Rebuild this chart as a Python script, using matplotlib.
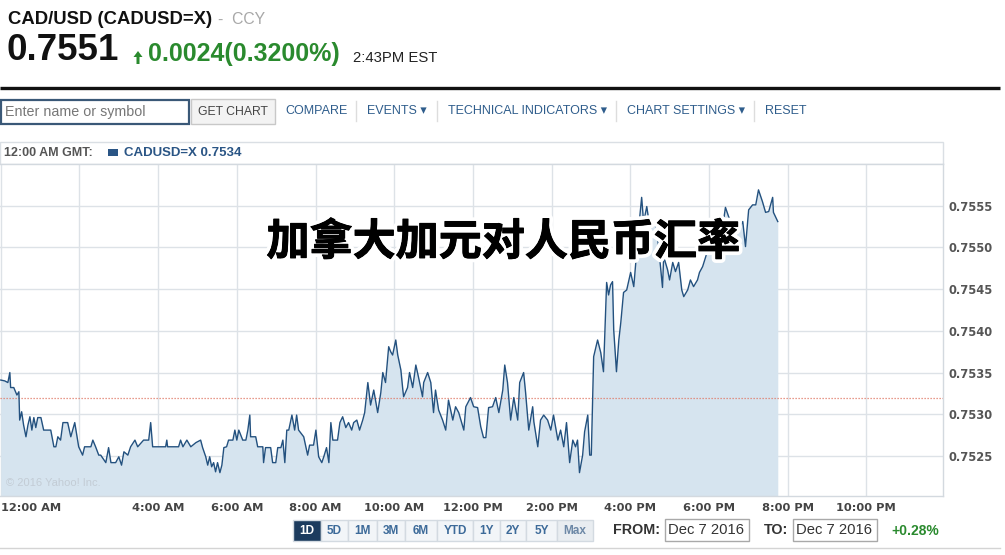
import matplotlib
matplotlib.use("Agg")
import matplotlib.pyplot as plt
from matplotlib.patches import Rectangle, FancyArrow
import matplotlib.patheffects as pe

# ---------------- data ----------------
title_cn = "加拿大加元对人民币汇率"
symbol_name = "CAD/USD (CADUSD=X)"
symbol_type = "CCY"
last_price = "0.7551"
change_text = "0.0024(0.3200%)"
quote_time = "2:43PM EST"
legend_text = "CADUSD=X 0.7534"
legend_time = "12:00 AM GMT:"
prev_close = 0.75320
period_change = "+0.28%"
date_from = "Dec 7 2016"
date_to = "Dec 7 2016"

hours_overnight = [0.00, 0.10, 0.18, 0.23, 0.25, 0.33, 0.41, 0.46, 0.48, 0.53,
                   0.58, 0.64, 0.69, 0.74, 0.79, 0.84, 0.89, 0.94, 1.02, 1.09,
                   1.27, 1.35, 1.40, 1.45, 1.52, 1.58, 1.70, 1.78, 1.88, 1.98,
                   2.08, 2.13, 2.29, 2.34, 2.41, 2.49, 2.54, 2.67, 2.74, 2.80,
                   2.92, 3.00, 3.07, 3.13, 3.23, 3.30, 3.41, 3.48, 3.63, 3.76,
                   3.81, 3.86, 4.19, 4.22, 4.24, 4.52, 4.57, 4.63, 4.73, 4.83]
rates_overnight = [0.75341, 0.75340, 0.75338, 0.75350, 0.75332, 0.75332, 0.75323, 0.75327, 0.75293, 0.75303,
                   0.75287, 0.75273, 0.75287, 0.75297, 0.75281, 0.75296, 0.75284, 0.75296, 0.75296, 0.75281,
                   0.75281, 0.75261, 0.75261, 0.75273, 0.75269, 0.75290, 0.75290, 0.75273, 0.75290, 0.75261,
                   0.75251, 0.75261, 0.75261, 0.75269, 0.75261, 0.75251, 0.75251, 0.75242, 0.75260, 0.75242,
                   0.75242, 0.75249, 0.75239, 0.75255, 0.75251, 0.75261, 0.75269, 0.75261, 0.75269, 0.75269,
                   0.75290, 0.75261, 0.75261, 0.75269, 0.75261, 0.75261, 0.75269, 0.75261, 0.75269, 0.75261]

hours_morning = [4.96, 5.08, 5.13, 5.21, 5.26, 5.31, 5.36, 5.41, 5.46, 5.51,
                 5.57, 5.62, 5.67, 5.74, 5.79, 5.90, 5.95, 6.00, 6.05, 6.15,
                 6.23, 6.28, 6.33, 6.35, 6.48, 6.53, 6.66, 6.68, 6.73, 6.86,
                 6.91, 6.99, 7.04, 7.12, 7.17, 7.22, 7.27, 7.32, 7.40, 7.47,
                 7.52, 7.57, 7.70, 7.80, 7.85, 7.95, 8.01, 8.08, 8.16, 8.21,
                 8.28, 8.34, 8.39, 8.44, 8.56, 8.62, 8.69, 8.77, 8.84, 8.92,
                 8.97, 9.05, 9.12, 9.20]
rates_morning = [0.75266, 0.75269, 0.75260, 0.75249, 0.75239, 0.75249, 0.75237, 0.75242, 0.75231, 0.75242,
                 0.75230, 0.75239, 0.75260, 0.75261, 0.75269, 0.75269, 0.75281, 0.75269, 0.75281, 0.75269,
                 0.75269, 0.75281, 0.75299, 0.75273, 0.75273, 0.75261, 0.75261, 0.75242, 0.75260, 0.75260,
                 0.75242, 0.75242, 0.75260, 0.75260, 0.75269, 0.75242, 0.75281, 0.75281, 0.75299, 0.75281,
                 0.75299, 0.75281, 0.75273, 0.75251, 0.75263, 0.75263, 0.75281, 0.75249, 0.75242, 0.75249,
                 0.75260, 0.75242, 0.75290, 0.75269, 0.75269, 0.75290, 0.75297, 0.75284, 0.75290, 0.75281,
                 0.75290, 0.75293, 0.75281, 0.75293]

hours_midday = [9.25, 9.33, 9.40, 9.48, 9.58, 9.66, 9.71, 9.78, 9.86, 9.91,
                9.96, 10.04, 10.09, 10.17, 10.22, 10.24, 10.34, 10.39, 10.47, 10.55,
                10.62, 10.72, 10.75, 10.85, 10.93, 11.00, 11.05, 11.13, 11.23, 11.31,
                11.38, 11.49, 11.56, 11.64, 11.77, 11.82, 11.94, 12.02, 12.12, 12.20,
                12.27, 12.33, 12.40, 12.50, 12.58, 12.66, 12.76, 12.81, 12.88, 12.96,
                13.04, 13.14, 13.19, 13.29, 13.34, 13.42, 13.52, 13.55, 13.65, 13.72,
                13.80, 13.90, 13.98, 14.05, 14.16, 14.23, 14.31, 14.38, 14.46, 14.54,
                14.61, 14.66, 14.71, 14.79, 14.84, 14.92, 14.97, 15.01]
rates_midday = [0.75302, 0.75338, 0.75311, 0.75329, 0.75302, 0.75326, 0.75350, 0.75338, 0.75381, 0.75375,
                0.75371, 0.75389, 0.75371, 0.75353, 0.75329, 0.75321, 0.75332, 0.75350, 0.75332, 0.75359,
                0.75344, 0.75321, 0.75338, 0.75350, 0.75338, 0.75302, 0.75329, 0.75305, 0.75293, 0.75281,
                0.75317, 0.75293, 0.75309, 0.75302, 0.75281, 0.75309, 0.75320, 0.75309, 0.75308, 0.75285,
                0.75272, 0.75272, 0.75308, 0.75309, 0.75320, 0.75302, 0.75329, 0.75359, 0.75338, 0.75293,
                0.75320, 0.75293, 0.75338, 0.75350, 0.75326, 0.75281, 0.75309, 0.75291, 0.75261, 0.75293,
                0.75299, 0.75293, 0.75281, 0.75299, 0.75269, 0.75281, 0.75261, 0.75290, 0.75242, 0.75269,
                0.75261, 0.75269, 0.75230, 0.75251, 0.75279, 0.75299, 0.75251, 0.75251]

hours_afternoon = [15.07, 15.17, 15.25, 15.32, 15.40, 15.45, 15.50, 15.55, 15.58, 15.65,
                   15.71, 15.76, 15.83, 15.91, 16.01, 16.09, 16.14, 16.21, 16.29, 16.34,
                   16.42, 16.47, 16.57, 16.65, 16.72, 16.82, 16.85, 16.95, 17.00, 17.08,
                   17.15, 17.23, 17.31, 17.36, 17.46, 17.53, 17.61, 17.71, 17.76, 17.84,
                   17.92, 17.99, 18.09, 18.22, 18.35, 18.42, 18.50, 18.60, 18.68, 18.75,
                   18.86, 18.93, 19.01, 19.11, 19.19, 19.26, 19.36, 19.44, 19.52, 19.62,
                   19.64, 19.75]
rates_afternoon = [0.75369, 0.75389, 0.75374, 0.75351, 0.75458, 0.75443, 0.75455, 0.75459, 0.75401, 0.75351,
                   0.75389, 0.75410, 0.75446, 0.75449, 0.75470, 0.75453, 0.75482, 0.75521, 0.75560, 0.75530,
                   0.75549, 0.75533, 0.75525, 0.75530, 0.75501, 0.75452, 0.75489, 0.75473, 0.75461, 0.75482,
                   0.75471, 0.75482, 0.75449, 0.75441, 0.75449, 0.75461, 0.75453, 0.75461, 0.75470, 0.75477,
                   0.75489, 0.75501, 0.75506, 0.75509, 0.75525, 0.75548, 0.75537, 0.75525, 0.75513, 0.75521,
                   0.75531, 0.75501, 0.75545, 0.75551, 0.75551, 0.75569, 0.75555, 0.75542, 0.75543, 0.75560,
                   0.75542, 0.75531]

y_ticks = [0.7525, 0.7530, 0.7535, 0.7540, 0.7545, 0.7550, 0.7555]
grid_hours = [0, 2, 4, 6, 8, 10, 12, 14, 16, 18, 20, 22]
x_labels = ["12:00 AM", "", "4:00 AM", "6:00 AM", "8:00 AM", "10:00 AM", "12:00 PM",
            "2:00 PM", "4:00 PM", "6:00 PM", "8:00 PM", "10:00 PM"]
range_buttons = ["1D", "5D", "1M", "3M", "6M", "YTD", "1Y", "2Y", "5Y", "Max"]
toolbar_links = ["COMPARE", "EVENTS \u25be", "TECHNICAL INDICATORS \u25be", "CHART SETTINGS \u25be", "RESET"]

hours = hours_overnight + hours_morning + hours_midday + hours_afternoon
rates = rates_overnight + rates_morning + rates_midday + rates_afternoon

# ---------------- styling ----------------
W, H = 1005, 555
LINE = "#23517f"
FILL = "#d6e4ef"
GRID = "#dde2e7"
LINK = "#2f5d8c"
GREEN = "#2a8a2e"
ARIAL = ["Liberation Sans", "DejaVu Sans"]

fig = plt.figure(figsize=(W / 100, H / 100), dpi=100)
fig.patch.set_facecolor("white")

# overlay (page chrome) in pixel coordinates
ov = fig.add_axes([0, 0, 1, 1])
ov.set_xlim(0, W)
ov.set_ylim(H, 0)
ov.axis("off")

ov.text(8, 19, symbol_name, fontsize=13.3, fontweight="bold", family=ARIAL,
        color="#111111", va="center", ha="left")
ov.text(218, 19, "-  " + symbol_type, fontsize=11.3, family=ARIAL,
        color="#a8a8a8", va="center", ha="left")
ov.text(7, 50, last_price, fontsize=26.5, fontweight="bold", family=ARIAL,
        color="#111111", va="center", ha="left")
ov.add_patch(FancyArrow(138, 64, 0, -13, width=3, head_width=9, head_length=6,
                        length_includes_head=True, color=GREEN, lw=0))
ov.text(148, 54, change_text, fontsize=18, fontweight="bold", family=ARIAL,
        color=GREEN, va="center", ha="left")
ov.text(353, 58.5, quote_time, fontsize=10.7, family=ARIAL,
        color="#222222", va="center", ha="left")
ov.plot([0, 1000], [87.5, 87.5], color="#111111", lw=2.4, solid_capstyle="butt")

# toolbar
ov.add_patch(Rectangle((1, 100), 188, 24, facecolor="white", edgecolor="#3a5877", lw=1.6))
ov.text(5, 112, "Enter name or symbol", fontsize=10.3, family=ARIAL,
        color="#777777", va="center", ha="left")
ov.add_patch(Rectangle((191, 99), 84, 25, facecolor="#f3f3f3", edgecolor="#c8c8c8", lw=1))
ov.text(233, 112, "GET CHART", fontsize=8.8, family=ARIAL,
        color="#444444", va="center", ha="center")
link_x = [285, 367, 448, 627, 765]
sep_x = [356, 437, 616, 754]
for lx, lt in zip(link_x, toolbar_links):
    ov.text(lx, 111, lt, fontsize=9, family=ARIAL, color=LINK, va="center", ha="left")
for sx in sep_x:
    ov.plot([sx, sx], [101, 121], color="#dddddd", lw=1)

# legend strip above the chart
ov.add_patch(Rectangle((0, 142), 943, 22, facecolor="white", edgecolor="#dadfe4", lw=1))
ov.text(4, 152.5, legend_time, fontsize=9, fontweight="bold", family=ARIAL,
        color="#555555", va="center", ha="left")
ov.add_patch(Rectangle((108, 149), 10, 7, facecolor="#2a5585", edgecolor="none"))
ov.text(124, 152.5, legend_text, fontsize=9.5, fontweight="bold", family=ARIAL,
        color="#2a5585", va="center", ha="left")

# range buttons
btn_edges = [293, 321, 348, 377, 405, 437, 473, 500, 526, 557, 593]
for i, lab in enumerate(range_buttons):
    x0, x1 = btn_edges[i], btn_edges[i + 1]
    if i == 0:
        fc, tc = "#1c3b5e", "white"
    elif lab == "Max":
        fc, tc = "#e9edf1", "#6d88a6"
    else:
        fc, tc = "#f2f5f8", "#3c6a99"
    ov.add_patch(Rectangle((x0, 520), x1 - x0, 21, facecolor=fc, edgecolor="#d3dae1", lw=1))
    ov.text((x0 + x1) / 2, 531, lab, fontsize=8.5, fontweight="bold", family=ARIAL,
            color=tc, va="center", ha="center")

ov.text(613, 530, "FROM:", fontsize=10.3, fontweight="bold", family=ARIAL,
        color="#333333", va="center", ha="left")
ov.add_patch(Rectangle((665, 519), 84, 22, facecolor="white", edgecolor="#a9a9a9", lw=1))
ov.text(668, 530, date_from, fontsize=10.6, family=ARIAL, color="#333333", va="center", ha="left")
ov.text(764, 530, "TO:", fontsize=10.3, fontweight="bold", family=ARIAL,
        color="#333333", va="center", ha="left")
ov.add_patch(Rectangle((793, 519), 84, 22, facecolor="white", edgecolor="#a9a9a9", lw=1))
ov.text(796, 530, date_to, fontsize=10.6, family=ARIAL, color="#333333", va="center", ha="left")
ov.text(891, 531, period_change, fontsize=10, fontweight="bold", family=ARIAL,
        color=GREEN, va="center", ha="left")
ov.plot([0, 1000], [548, 548], color="#d4d4d4", lw=1)

# ---------------- main chart ----------------
ax = fig.add_axes([0 / W, 1 - 496 / H, 943 / W, 332 / H])
ax.set_facecolor("white")
ax.fill_between(hours, rates, 0.7520, color=FILL, lw=0, zorder=1)
ax.plot(hours, rates, color=LINE, lw=1.0, zorder=3)
ax.axhline(prev_close, color="#e07a68", lw=0.9, ls=(0, (1, 1.4)), zorder=2)
ax.set_xlim(-0.02, 23.95)
ax.set_ylim(0.75202, 0.75600)

ax.set_xticks(grid_hours)
ax.set_xticklabels(x_labels)
ax.set_yticks(y_ticks)
ax.set_yticklabels(["%.4f" % t for t in y_ticks])
ax.yaxis.tick_right()
ax.tick_params(axis="both", length=0)
ax.tick_params(axis="x", pad=5, labelsize=8.2, labelcolor="#444444")
ax.tick_params(axis="y", pad=4, labelsize=8.3, labelcolor="#555555")
for lbl in ax.get_xticklabels() + ax.get_yticklabels():
    lbl.set_fontweight("bold")
    lbl.set_family("DejaVu Sans")
ax.get_xticklabels()[0].set_ha("left")
ax.grid(True, color=GRID, lw=1, zorder=0)
ax.set_axisbelow(True)
for side, sp in ax.spines.items():
    sp.set_color("#d3d9df")
    sp.set_linewidth(1)
ax.spines["left"].set_visible(False)

ax.text(0.006, 0.025, "\u00a9 2016 Yahoo! Inc.", transform=ax.transAxes, fontsize=8,
        color="#c3ccd5", family=ARIAL, va="bottom", ha="left", zorder=4)

# overlaid Chinese headline (heavy black glyphs with white halo)
fig.text(503 / W, 1 - 242 / H, title_cn, fontsize=31, fontweight="black",
         family=["Noto Sans CJK SC", "DejaVu Sans"], color="black",
         ha="center", va="center", zorder=10,
         path_effects=[pe.withStroke(linewidth=6, foreground="white"),
                       pe.withStroke(linewidth=0.7, foreground="black")])

fig.savefig("out.png", dpi=100, facecolor="white")
